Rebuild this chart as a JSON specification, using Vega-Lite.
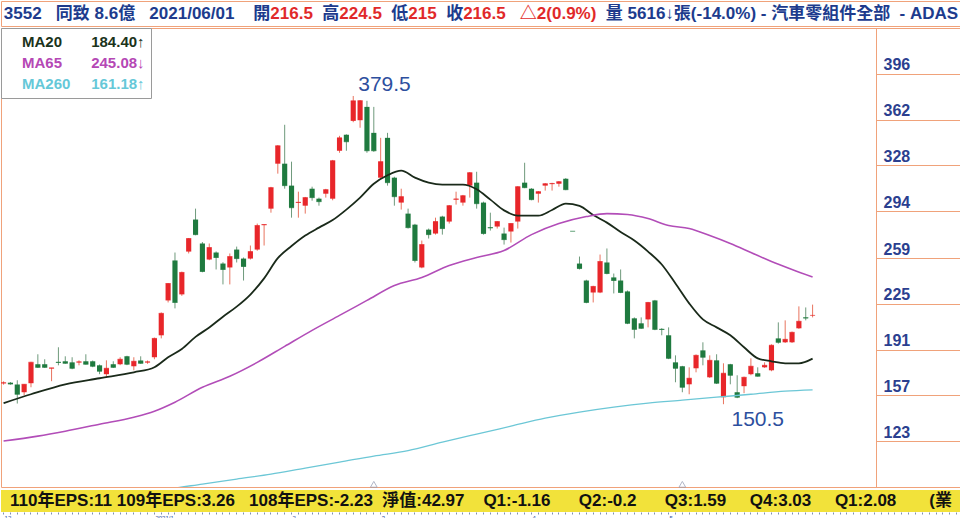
{
"$schema": "https://vega.github.io/schema/vega-lite/v6.json",
"padding": 0,
"background": "white",
"spacing": 0,
"config": {"view": {"stroke": null}, "concat": {"spacing": 0}},
"resolve": {"scale": {"x": "shared", "color": "independent"}, "legend": {"color": "independent"}},
"datasets": {
"k": [
{"d":"2020-12-02","o":166,"h":167.5,"l":165,"c":166.5},
{"d":"2020-12-03","o":166.5,"h":167,"l":165,"c":165.5},
{"d":"2020-12-04","o":165.1,"h":168.3,"l":151,"c":157.9},
{"d":"2020-12-07","o":159.4,"h":165.5,"l":157.2,"c":165.3},
{"d":"2020-12-08","o":166.1,"h":182,"l":163.1,"c":181.6},
{"d":"2020-12-09","o":180.2,"h":187.6,"l":177.5,"c":177.9},
{"d":"2020-12-10","o":180.2,"h":183.9,"l":177.5,"c":177.9},
{"d":"2020-12-11","o":177,"h":177.5,"l":167.6,"c":177.5},
{"d":"2020-12-14","o":182,"h":192.8,"l":179.4,"c":181.5},
{"d":"2020-12-15","o":182.4,"h":186.1,"l":180.5,"c":180.9},
{"d":"2020-12-16","o":181.6,"h":185.4,"l":176.5,"c":177.2},
{"d":"2020-12-17","o":181.5,"h":183.1,"l":179.4,"c":182},
{"d":"2020-12-18","o":182.4,"h":187.6,"l":180,"c":180.2},
{"d":"2020-12-21","o":182.4,"h":183,"l":178,"c":178.7},
{"d":"2020-12-22","o":179.4,"h":180,"l":172.8,"c":175},
{"d":"2020-12-23","o":172.8,"h":183.1,"l":170.5,"c":177.2},
{"d":"2020-12-24","o":180.2,"h":182.4,"l":177.5,"c":177.9},
{"d":"2020-12-25","o":180.2,"h":185.4,"l":179.5,"c":183.9},
{"d":"2020-12-28","o":186.1,"h":186.5,"l":179.5,"c":180.2},
{"d":"2020-12-29","o":178.7,"h":185.4,"l":175.7,"c":182.4},
{"d":"2020-12-30","o":183,"h":186.1,"l":180.5,"c":180.9},
{"d":"2020-12-31","o":181.5,"h":183,"l":180.5,"c":182},
{"d":"2021-01-04","o":185.4,"h":200,"l":183.9,"c":199.4},
{"d":"2021-01-05","o":201.7,"h":218.7,"l":199.4,"c":218},
{"d":"2021-01-06","o":227.6,"h":240.5,"l":226.1,"c":240.2},
{"d":"2021-01-07","o":257.3,"h":263.2,"l":221.7,"c":226.1},
{"d":"2021-01-08","o":232.1,"h":249,"l":231,"c":248.4},
{"d":"2021-01-11","o":263.9,"h":274,"l":262.5,"c":273.6},
{"d":"2021-01-12","o":287.7,"h":295.8,"l":276,"c":276.5},
{"d":"2021-01-13","o":269.9,"h":271,"l":248.5,"c":249.1},
{"d":"2021-01-14","o":258,"h":269.9,"l":257.5,"c":266.9},
{"d":"2021-01-15","o":263.2,"h":264,"l":250.6,"c":259.5},
{"d":"2021-01-18","o":255,"h":256,"l":239.5,"c":250.6},
{"d":"2021-01-19","o":252.1,"h":262.5,"l":239.5,"c":260.2},
{"d":"2021-01-20","o":265.4,"h":267.6,"l":255.8,"c":258.7},
{"d":"2021-01-21","o":258.7,"h":259.5,"l":242.4,"c":252.8},
{"d":"2021-01-22","o":258.7,"h":268.4,"l":258,"c":263.9},
{"d":"2021-01-25","o":265.4,"h":284.7,"l":264.5,"c":283.2},
{"d":"2021-01-26","o":283.5,"h":284,"l":268.4,"c":284},
{"d":"2021-01-27","o":295.8,"h":312,"l":292.8,"c":311.4},
{"d":"2021-01-28","o":329.2,"h":343,"l":321.8,"c":342.5},
{"d":"2021-01-29","o":329.2,"h":358.1,"l":310.6,"c":312.9},
{"d":"2021-02-01","o":312.9,"h":330.7,"l":289.1,"c":296.5},
{"d":"2021-02-02","o":300,"h":308.4,"l":289.1,"c":300.5},
{"d":"2021-02-03","o":298,"h":304.5,"l":292.1,"c":304},
{"d":"2021-02-04","o":310.6,"h":312.1,"l":301.7,"c":304},
{"d":"2021-02-05","o":303.2,"h":304,"l":298,"c":301},
{"d":"2021-02-17","o":306.9,"h":310.5,"l":304,"c":309.9},
{"d":"2021-02-18","o":303.2,"h":332,"l":302,"c":331.4},
{"d":"2021-02-19","o":338.8,"h":349.9,"l":337.3,"c":348.4},
{"d":"2021-02-22","o":350.7,"h":351,"l":338.8,"c":345.5},
{"d":"2021-02-23","o":361,"h":379.5,"l":360,"c":375.9},
{"d":"2021-02-24","o":361.5,"h":376.5,"l":355.9,"c":376},
{"d":"2021-02-25","o":371.4,"h":375.9,"l":337.3,"c":338.8},
{"d":"2021-02-26","o":352.1,"h":371.4,"l":338,"c":338.8},
{"d":"2021-03-02","o":318.8,"h":348.4,"l":318,"c":330.7},
{"d":"2021-03-03","o":348.4,"h":352.1,"l":312.9,"c":315.1},
{"d":"2021-03-04","o":318.8,"h":319.5,"l":298,"c":304.7},
{"d":"2021-03-05","o":300.3,"h":310.6,"l":295.1,"c":304.7},
{"d":"2021-03-08","o":292.1,"h":295.8,"l":281,"c":281.7},
{"d":"2021-03-09","o":283.9,"h":284.5,"l":255.8,"c":257.3},
{"d":"2021-03-10","o":252.1,"h":272.1,"l":251.5,"c":269.1},
{"d":"2021-03-11","o":280.2,"h":281,"l":273.6,"c":276.5},
{"d":"2021-03-12","o":277.3,"h":289.1,"l":276.5,"c":286.2},
{"d":"2021-03-15","o":289.9,"h":290.5,"l":276.5,"c":281},
{"d":"2021-03-16","o":286.2,"h":298.5,"l":284.7,"c":298},
{"d":"2021-03-17","o":302.5,"h":308.4,"l":298.8,"c":303},
{"d":"2021-03-18","o":300.3,"h":306,"l":298,"c":305.4},
{"d":"2021-03-19","o":312.9,"h":323,"l":304,"c":322.5},
{"d":"2021-03-22","o":315.1,"h":323.2,"l":295.8,"c":299.5},
{"d":"2021-03-23","o":300.3,"h":301,"l":276.5,"c":277.3},
{"d":"2021-03-24","o":282,"h":292.8,"l":279.5,"c":281.5},
{"d":"2021-03-25","o":282.5,"h":286.5,"l":281,"c":286.2},
{"d":"2021-03-26","o":277.3,"h":281.7,"l":269.1,"c":272.8},
{"d":"2021-03-29","o":278.8,"h":285,"l":270.6,"c":284.7},
{"d":"2021-03-30","o":286.2,"h":312.5,"l":281,"c":312.1},
{"d":"2021-03-31","o":315.1,"h":329.9,"l":311,"c":311.4},
{"d":"2021-04-01","o":310.6,"h":311,"l":302,"c":302.5},
{"d":"2021-04-06","o":306.9,"h":308.9,"l":300.3,"c":308.4},
{"d":"2021-04-07","o":312.9,"h":314.8,"l":309.2,"c":314.3},
{"d":"2021-04-08","o":314,"h":315,"l":309.2,"c":314.5},
{"d":"2021-04-09","o":314.3,"h":316.3,"l":312.1,"c":315.8},
{"d":"2021-04-12","o":318,"h":318.5,"l":309.5,"c":309.9},
{"d":"2021-04-13","o":279,"h":279,"l":279,"c":279},
{"d":"2021-04-14","o":255,"h":260.2,"l":250.6,"c":251.3},
{"d":"2021-04-15","o":242.4,"h":243,"l":225.5,"c":226.1},
{"d":"2021-04-16","o":233.5,"h":238.5,"l":226.1,"c":238},
{"d":"2021-04-19","o":233.5,"h":261.7,"l":233,"c":256.5},
{"d":"2021-04-20","o":255.8,"h":266.2,"l":247,"c":247.6},
{"d":"2021-04-21","o":244.7,"h":247.6,"l":232.8,"c":242.4},
{"d":"2021-04-22","o":242.4,"h":250.6,"l":233,"c":233.5},
{"d":"2021-04-23","o":234.3,"h":235,"l":210,"c":210.6},
{"d":"2021-04-26","o":214.3,"h":215,"l":199.4,"c":206.1},
{"d":"2021-04-27","o":210.6,"h":215,"l":206.5,"c":206.9},
{"d":"2021-04-28","o":213.5,"h":226.5,"l":207.6,"c":226.1},
{"d":"2021-04-29","o":227.6,"h":228,"l":205.5,"c":206.1},
{"d":"2021-04-30","o":206.5,"h":207,"l":201.7,"c":206},
{"d":"2021-05-03","o":201.7,"h":207.6,"l":184,"c":184.6},
{"d":"2021-05-04","o":181.6,"h":186.8,"l":166.8,"c":177.2},
{"d":"2021-05-05","o":178.7,"h":179,"l":159.4,"c":163.1},
{"d":"2021-05-06","o":165.3,"h":177.9,"l":157.9,"c":169.8},
{"d":"2021-05-07","o":177.2,"h":187.5,"l":174.2,"c":186.8},
{"d":"2021-05-10","o":190.5,"h":196.5,"l":179.4,"c":185.4},
{"d":"2021-05-11","o":170.5,"h":186.8,"l":170,"c":183.1},
{"d":"2021-05-12","o":183.1,"h":187.6,"l":165.5,"c":166.1},
{"d":"2021-05-13","o":155.7,"h":180.9,"l":150.5,"c":173.5},
{"d":"2021-05-14","o":180.2,"h":180.5,"l":165.3,"c":172},
{"d":"2021-05-17","o":159.4,"h":172,"l":155,"c":155.7},
{"d":"2021-05-18","o":163.9,"h":171,"l":158.7,"c":170.5},
{"d":"2021-05-19","o":172.8,"h":184.6,"l":172,"c":178.7},
{"d":"2021-05-20","o":173.5,"h":177.9,"l":171,"c":171.3},
{"d":"2021-05-21","o":177.9,"h":181.6,"l":177.5,"c":179.4},
{"d":"2021-05-24","o":175.7,"h":195,"l":175,"c":194.3},
{"d":"2021-05-25","o":199.4,"h":211.3,"l":195.5,"c":196.5},
{"d":"2021-05-26","o":196.5,"h":212.8,"l":196,"c":198.7},
{"d":"2021-05-27","o":196.5,"h":204.5,"l":196,"c":203.9},
{"d":"2021-05-28","o":206.9,"h":223.2,"l":206.5,"c":212.1},
{"d":"2021-05-31","o":215,"h":222.4,"l":212.8,"c":214.5},
{"d":"2021-06-01","o":216.5,"h":224.5,"l":215,"c":216.5}
],
"pad": [
{"d":"2021-06-02"},{"d":"2021-06-03"},{"d":"2021-06-04"},{"d":"2021-06-07"},{"d":"2021-06-08"},{"d":"2021-06-09"},{"d":"2021-06-10"},{"d":"2021-06-11"},{"d":"2021-06-15"},{"d":"2021-06-16"},{"d":"2021-06-17"},{"d":"2021-06-18"},{"d":"2021-06-21"},{"d":"2021-06-22"},{"d":"2021-06-23"},{"d":"2021-06-24"},{"d":"2021-06-25"},{"d":"2021-06-28"},{"d":"2021-06-29"},{"d":"2021-06-30"},{"d":"2021-07-01"}
],
"ma": [
{"d":"2020-12-02","ma":"MA20","v":151.3},{"d":"2020-12-08","ma":"MA20","v":157.9},{"d":"2020-12-15","ma":"MA20","v":165.3},{"d":"2020-12-22","ma":"MA20","v":169.8},{"d":"2020-12-29","ma":"MA20","v":174.2},{"d":"2021-01-04","ma":"MA20","v":178},{"d":"2021-01-06","ma":"MA20","v":185.4},{"d":"2021-01-08","ma":"MA20","v":191.5},{"d":"2021-01-12","ma":"MA20","v":200.5},{"d":"2021-01-14","ma":"MA20","v":207.5},{"d":"2021-01-18","ma":"MA20","v":215.5},{"d":"2021-01-20","ma":"MA20","v":223},{"d":"2021-01-22","ma":"MA20","v":232},{"d":"2021-01-26","ma":"MA20","v":244},{"d":"2021-01-28","ma":"MA20","v":259},{"d":"2021-02-01","ma":"MA20","v":268},{"d":"2021-02-03","ma":"MA20","v":275.8},{"d":"2021-02-05","ma":"MA20","v":281.7},{"d":"2021-02-18","ma":"MA20","v":287.3},{"d":"2021-02-22","ma":"MA20","v":295.1},{"d":"2021-02-24","ma":"MA20","v":304},{"d":"2021-02-26","ma":"MA20","v":314.3},{"d":"2021-03-03","ma":"MA20","v":320.6},{"d":"2021-03-05","ma":"MA20","v":324},{"d":"2021-03-09","ma":"MA20","v":318.8},{"d":"2021-03-11","ma":"MA20","v":315.1},{"d":"2021-03-15","ma":"MA20","v":313.6},{"d":"2021-03-18","ma":"MA20","v":313.6},{"d":"2021-03-22","ma":"MA20","v":310.2},{"d":"2021-03-24","ma":"MA20","v":302.5},{"d":"2021-03-26","ma":"MA20","v":294.5},{"d":"2021-03-30","ma":"MA20","v":290.6},{"d":"2021-04-06","ma":"MA20","v":290.6},{"d":"2021-04-08","ma":"MA20","v":294.8},{"d":"2021-04-12","ma":"MA20","v":299.5},{"d":"2021-04-14","ma":"MA20","v":297.8},{"d":"2021-04-16","ma":"MA20","v":291},{"d":"2021-04-20","ma":"MA20","v":285.4},{"d":"2021-04-22","ma":"MA20","v":278.4},{"d":"2021-04-26","ma":"MA20","v":272.1},{"d":"2021-04-28","ma":"MA20","v":263.9},{"d":"2021-04-30","ma":"MA20","v":254.3},{"d":"2021-05-04","ma":"MA20","v":240.2},{"d":"2021-05-06","ma":"MA20","v":225.4},{"d":"2021-05-10","ma":"MA20","v":213.5},{"d":"2021-05-12","ma":"MA20","v":207.6},{"d":"2021-05-14","ma":"MA20","v":201.7},{"d":"2021-05-18","ma":"MA20","v":192.8},{"d":"2021-05-20","ma":"MA20","v":184.6},{"d":"2021-05-24","ma":"MA20","v":182.4},{"d":"2021-05-26","ma":"MA20","v":180.9},{"d":"2021-05-28","ma":"MA20","v":180.9},{"d":"2021-06-01","ma":"MA20","v":184.4},
{"d":"2020-12-02","ma":"MA65","v":123.1},{"d":"2020-12-09","ma":"MA65","v":126.8},{"d":"2020-12-15","ma":"MA65","v":130.5},{"d":"2020-12-22","ma":"MA65","v":135.7},{"d":"2020-12-29","ma":"MA65","v":140.9},{"d":"2021-01-04","ma":"MA65","v":145.3},{"d":"2021-01-07","ma":"MA65","v":152},{"d":"2021-01-13","ma":"MA65","v":163.1},{"d":"2021-01-19","ma":"MA65","v":171.3},{"d":"2021-01-25","ma":"MA65","v":181.6},{"d":"2021-01-29","ma":"MA65","v":193.5},{"d":"2021-02-04","ma":"MA65","v":205.4},{"d":"2021-02-19","ma":"MA65","v":216.5},{"d":"2021-02-25","ma":"MA65","v":227.6},{"d":"2021-03-04","ma":"MA65","v":238.7},{"d":"2021-03-10","ma":"MA65","v":244.7},{"d":"2021-03-16","ma":"MA65","v":253.6},{"d":"2021-03-22","ma":"MA65","v":259.5},{"d":"2021-03-26","ma":"MA65","v":264.7},{"d":"2021-04-01","ma":"MA65","v":276.5},{"d":"2021-04-09","ma":"MA65","v":284.7},{"d":"2021-04-15","ma":"MA65","v":289.9},{"d":"2021-04-20","ma":"MA65","v":292.1},{"d":"2021-04-23","ma":"MA65","v":291.4},{"d":"2021-04-28","ma":"MA65","v":288.4},{"d":"2021-05-03","ma":"MA65","v":283.2},{"d":"2021-05-06","ma":"MA65","v":281},{"d":"2021-05-11","ma":"MA65","v":275.8},{"d":"2021-05-14","ma":"MA65","v":269.9},{"d":"2021-05-19","ma":"MA65","v":263.2},{"d":"2021-05-24","ma":"MA65","v":256.5},{"d":"2021-05-27","ma":"MA65","v":250.6},{"d":"2021-06-01","ma":"MA65","v":245.08},
{"d":"2020-12-29","ma":"MA260","v":84.5},{"d":"2021-01-06","ma":"MA260","v":87.5},{"d":"2021-01-13","ma":"MA260","v":91.2},{"d":"2021-01-20","ma":"MA260","v":94.9},{"d":"2021-01-27","ma":"MA260","v":98.6},{"d":"2021-02-03","ma":"MA260","v":103.1},{"d":"2021-02-19","ma":"MA260","v":107.5},{"d":"2021-02-26","ma":"MA260","v":112},{"d":"2021-03-08","ma":"MA260","v":116},{"d":"2021-03-15","ma":"MA260","v":122.3},{"d":"2021-03-22","ma":"MA260","v":128.3},{"d":"2021-03-29","ma":"MA260","v":134.2},{"d":"2021-04-07","ma":"MA260","v":140.1},{"d":"2021-04-14","ma":"MA260","v":144.6},{"d":"2021-04-21","ma":"MA260","v":148.3},{"d":"2021-04-28","ma":"MA260","v":151.3},{"d":"2021-05-05","ma":"MA260","v":153.5},{"d":"2021-05-12","ma":"MA260","v":155.7},{"d":"2021-05-19","ma":"MA260","v":157.9},{"d":"2021-05-26","ma":"MA260","v":160.2},{"d":"2021-06-01","ma":"MA260","v":161.18}
],
"ann": [
{"d":"2021-02-23","v":379.5,"lab":"379.5","p":"hi"},
{"d":"2021-05-13","v":150.5,"lab":"150.5","p":"lo"}
],
"mk": [{"d":"2021-02-26"},{"d":"2021-05-05"}]
},
"vconcat": [
{
"width": 960, "height": 25,
"view": {"fill": "white", "stroke": "#f0a27a"},
"data": {"values": [{"t": "3552\u00a0\u00a0\u00a0同致\u00a08.6億\u00a0\u00a0\u00a02021/06/01\u00a0\u00a0\u00a0\u00a0開216.5\u00a0\u00a0高224.5\u00a0\u00a0低215\u00a0\u00a0收216.5\u00a0\u00a0\u00a0△2(0.9%)\u00a0\u00a0量\u00a05616↓張(-14.0%)\u00a0-\u00a0汽車零組件全部\u00a0\u00a0-\u00a0ADAS"}]},
"mark": {"type": "text", "font": "Liberation Sans, Noto Sans CJK TC", "fontSize": 17, "fontWeight": "bold",
 "color": {"gradient": "linear", "x1": 0, "y1": 0, "x2": 1, "y2": 0, "stops": [
 {"offset": 0, "color": "#1f3a8c"}, {"offset": 0.2798, "color": "#1f3a8c"},
 {"offset": 0.2798, "color": "#e0282a"}, {"offset": 0.3294, "color": "#e0282a"},
 {"offset": 0.3294, "color": "#1f3a8c"}, {"offset": 0.3523, "color": "#1f3a8c"},
 {"offset": 0.3523, "color": "#e0282a"}, {"offset": 0.4019, "color": "#e0282a"},
 {"offset": 0.4019, "color": "#1f3a8c"}, {"offset": 0.4248, "color": "#1f3a8c"},
 {"offset": 0.4248, "color": "#e0282a"}, {"offset": 0.4595, "color": "#e0282a"},
 {"offset": 0.4595, "color": "#1f3a8c"}, {"offset": 0.4824, "color": "#1f3a8c"},
 {"offset": 0.4824, "color": "#e0282a"}, {"offset": 0.6229, "color": "#e0282a"},
 {"offset": 0.6229, "color": "#1f3a8c"}, {"offset": 1, "color": "#1f3a8c"}]}},
"encoding": {"text": {"field": "t", "type": "nominal"}}
},
{
"width": 960, "height": 459,
"view": {"fill": "white", "stroke": "#f0a27a"},
"layer": [
{
"data": {"name": "k"},
"transform": [{"window": [{"op": "lag", "field": "c", "as": "pc"}], "sort": [{"field": "d", "order": "ascending"}]}],
"encoding": {"x": {"field": "d", "type": "ordinal", "scale": {"paddingInner": 0.25, "paddingOuter": 0.135, "align": 0}, "axis": null}},
"layer": [
{"mark": {"type": "rule", "strokeWidth": 1},
 "encoding": {
 "y": {"field": "l", "type": "quantitative", "scale": {"domain": [89, 430], "nice": false, "zero": false},
  "axis": {"orient": "right", "offset": -85, "values": [123,157,191,225,259,294,328,362,396], "tickSize": 85, "tickColor": "#f0a27a", "domainColor": "#f0a27a", "grid": false, "title": null, "labelFont": "Liberation Sans", "labelFontSize": 16, "labelFontWeight": "bold", "labelColor": "#2b3f8f", "labelPadding": -78, "labelBaseline": "alphabetic", "labelOffset": -4, "labelAlign": "left", "labelBound": false, "labelFlush": false, "labelOverlap": false}},
 "y2": {"field": "h"},
 "color": {"condition": {"test": "datum.c > datum.o || (datum.c == datum.o && datum.c >= datum.pc)", "value": "#e8745f"}, "value": "#6f9a7c"}}},
{"mark": {"type": "bar"},
 "encoding": {
 "y": {"field": "o", "type": "quantitative", "scale": {"domain": [89, 430], "nice": false, "zero": false},
  "axis": {"orient": "right", "offset": -85, "values": [123,157,191,225,259,294,328,362,396], "tickSize": 85, "tickColor": "#f0a27a", "domainColor": "#f0a27a", "grid": false, "title": null, "labelFont": "Liberation Sans", "labelFontSize": 16, "labelFontWeight": "bold", "labelColor": "#2b3f8f", "labelPadding": -78, "labelBaseline": "alphabetic", "labelOffset": -4, "labelAlign": "left", "labelBound": false, "labelFlush": false, "labelOverlap": false}},
 "y2": {"field": "c"},
 "color": {"condition": {"test": "datum.c > datum.o || (datum.c == datum.o && datum.c >= datum.pc)", "value": "#e8262a"}, "value": "#1f7a3f"}}},
{"mark": {"type": "tick", "size": 5, "thickness": 1},
 "encoding": {
 "y": {"field": "c", "type": "quantitative", "scale": {"domain": [89, 430], "nice": false, "zero": false},
  "axis": {"orient": "right", "offset": -85, "values": [123,157,191,225,259,294,328,362,396], "tickSize": 85, "tickColor": "#f0a27a", "domainColor": "#f0a27a", "grid": false, "title": null, "labelFont": "Liberation Sans", "labelFontSize": 16, "labelFontWeight": "bold", "labelColor": "#2b3f8f", "labelPadding": -78, "labelBaseline": "alphabetic", "labelOffset": -4, "labelAlign": "left", "labelBound": false, "labelFlush": false, "labelOverlap": false}},
 "color": {"condition": {"test": "datum.c > datum.o || (datum.c == datum.o && datum.c >= datum.pc)", "value": "#e8262a"}, "value": "#1f7a3f"}}}
]
},
{
"data": {"name": "ma"},
"mark": {"type": "line", "clip": true, "interpolate": "monotone"},
"encoding": {
 "x": {"field": "d", "type": "ordinal", "scale": {"paddingInner": 0.25, "paddingOuter": 0.135, "align": 0}, "axis": null},
 "y": {"field": "v", "type": "quantitative", "scale": {"domain": [89, 430], "nice": false, "zero": false},
  "axis": {"orient": "right", "offset": -85, "values": [123,157,191,225,259,294,328,362,396], "tickSize": 85, "tickColor": "#f0a27a", "domainColor": "#f0a27a", "grid": false, "title": null, "labelFont": "Liberation Sans", "labelFontSize": 16, "labelFontWeight": "bold", "labelColor": "#2b3f8f", "labelPadding": -78, "labelBaseline": "alphabetic", "labelOffset": -4, "labelAlign": "left", "labelBound": false, "labelFlush": false, "labelOverlap": false}},
 "color": {"field": "ma", "type": "nominal",
  "scale": {"domain": ["MA20", "MA65", "MA260"], "range": ["#1a2a1a", "#b24db8", "#6cc7d6"]},
  "legend": {"orient": "top-left", "offset": 0, "title": null, "fillColor": "#ffffff", "strokeColor": "#9a9a9a", "padding": 6, "symbolSize": 0, "symbolStrokeWidth": 0, "symbolOpacity": 0, "labelOffset": 0, "labelFont": "Liberation Sans", "labelFontSize": 15, "labelFontWeight": "bold", "rowPadding": 5, "labelLimit": 300,
   "labelExpr": "datum.label == 'MA20' ? 'MA20\u00a0\u00a0\u00a0\u00a0\u00a0\u00a0\u00a0184.40↑' : datum.label == 'MA65' ? 'MA65\u00a0\u00a0\u00a0\u00a0\u00a0\u00a0\u00a0245.08↓' : 'MA260\u00a0\u00a0\u00a0\u00a0\u00a0161.18↑'",
   "encode": {"labels": {"update": {"fill": {"signal": "datum.value == 'MA20' ? '#1b331b' : datum.value == 'MA65' ? '#b548b5' : '#66c8d8'"}}}}}},
 "strokeWidth": {"field": "ma", "type": "nominal", "scale": {"domain": ["MA20", "MA65", "MA260"], "range": [1.8, 1.3, 1.4]}, "legend": null}
}
},
{
"data": {"name": "ann"},
"transform": [{"filter": "datum.p == 'hi'"}],
"mark": {"type": "text", "align": "left", "baseline": "alphabetic", "dx": 5, "dy": -5, "font": "Liberation Sans", "fontSize": 21, "color": "#2d4f9e"},
"encoding": {
 "x": {"field": "d", "type": "ordinal", "scale": {"paddingInner": 0.25, "paddingOuter": 0.135, "align": 0}, "axis": null},
 "y": {"field": "v", "type": "quantitative", "scale": {"domain": [89, 430], "nice": false, "zero": false},
  "axis": {"orient": "right", "offset": -85, "values": [123,157,191,225,259,294,328,362,396], "tickSize": 85, "tickColor": "#f0a27a", "domainColor": "#f0a27a", "grid": false, "title": null, "labelFont": "Liberation Sans", "labelFontSize": 16, "labelFontWeight": "bold", "labelColor": "#2b3f8f", "labelPadding": -78, "labelBaseline": "alphabetic", "labelOffset": -4, "labelAlign": "left", "labelBound": false, "labelFlush": false, "labelOverlap": false}},
 "text": {"field": "lab"}}
},
{
"data": {"name": "ann"},
"transform": [{"filter": "datum.p == 'lo'"}],
"mark": {"type": "text", "align": "left", "baseline": "alphabetic", "dx": 8, "dy": 22, "font": "Liberation Sans", "fontSize": 21, "color": "#2d4f9e"},
"encoding": {
 "x": {"field": "d", "type": "ordinal", "scale": {"paddingInner": 0.25, "paddingOuter": 0.135, "align": 0}, "axis": null},
 "y": {"field": "v", "type": "quantitative", "scale": {"domain": [89, 430], "nice": false, "zero": false},
  "axis": {"orient": "right", "offset": -85, "values": [123,157,191,225,259,294,328,362,396], "tickSize": 85, "tickColor": "#f0a27a", "domainColor": "#f0a27a", "grid": false, "title": null, "labelFont": "Liberation Sans", "labelFontSize": 16, "labelFontWeight": "bold", "labelColor": "#2b3f8f", "labelPadding": -78, "labelBaseline": "alphabetic", "labelOffset": -4, "labelAlign": "left", "labelBound": false, "labelFlush": false, "labelOverlap": false}},
 "text": {"field": "lab"}}
},
{
"data": {"name": "mk"},
"mark": {"type": "point", "shape": "triangle-up", "filled": false, "size": 45, "color": "#9098b0", "strokeWidth": 1},
"encoding": {
 "x": {"field": "d", "type": "ordinal", "scale": {"paddingInner": 0.25, "paddingOuter": 0.135, "align": 0}, "axis": null},
 "y": {"datum": 91, "type": "quantitative", "scale": {"domain": [89, 430], "nice": false, "zero": false},
  "axis": {"orient": "right", "offset": -85, "values": [123,157,191,225,259,294,328,362,396], "tickSize": 85, "tickColor": "#f0a27a", "domainColor": "#f0a27a", "grid": false, "title": null, "labelFont": "Liberation Sans", "labelFontSize": 16, "labelFontWeight": "bold", "labelColor": "#2b3f8f", "labelPadding": -78, "labelBaseline": "alphabetic", "labelOffset": -4, "labelAlign": "left", "labelBound": false, "labelFlush": false, "labelOverlap": false}}}
}
]
},
{
"width": 960, "height": 22,
"view": {"fill": "#f2e23a", "stroke": null},
"layer": [
{
"data": {"name": "k"},
"mark": {"type": "tick", "opacity": 0},
"encoding": {
 "x": {"field": "d", "type": "ordinal", "scale": {"paddingInner": 0.25, "paddingOuter": 0.135, "align": 0},
  "axis": {"orient": "bottom", "title": null, "domain": false, "ticks": true, "tickSize": 2, "tickColor": "#8090b0", "labelFontSize": 6, "labelFont": "Liberation Sans", "labelColor": "#3050a0", "labelPadding": 0, "labelAngle": 0, "labelAlign": "left", "labelBaseline": "top", "labelOffset": 1, "labelOverlap": false, "labelBound": false, "labelFlush": false,
   "labelExpr": "datum.value == '2020-12-02' ? '12' : datum.value == '2021-01-04' ? '2021/1' : datum.value == '2021-02-01' ? '2' : datum.value == '2021-03-02' ? '3' : datum.value == '2021-04-01' ? '4' : datum.value == '2021-05-03' ? '5' : ''"}}}
},
{
"data": {"name": "pad"},
"mark": {"type": "tick", "opacity": 0},
"encoding": {
 "x": {"field": "d", "type": "ordinal", "scale": {"paddingInner": 0.25, "paddingOuter": 0.135, "align": 0},
  "axis": {"orient": "bottom", "title": null, "domain": false, "ticks": true, "tickSize": 2, "tickColor": "#8090b0", "labelFontSize": 6, "labelFont": "Liberation Sans", "labelColor": "#3050a0", "labelPadding": 0, "labelAngle": 0, "labelAlign": "left", "labelBaseline": "top", "labelOffset": 1, "labelOverlap": false, "labelBound": false, "labelFlush": false,
   "labelExpr": "datum.value == '2020-12-02' ? '12' : datum.value == '2021-01-04' ? '2021/1' : datum.value == '2021-02-01' ? '2' : datum.value == '2021-03-02' ? '3' : datum.value == '2021-04-01' ? '4' : datum.value == '2021-05-03' ? '5' : ''"}}}
},
{
"data": {"values": [{"t": "110年EPS:11\u00a0109年EPS:3.26\u00a0\u00a0\u00a0108年EPS:-2.23\u00a0\u00a0淨值:42.97\u00a0\u00a0\u00a0\u00a0Q1:-1.16\u00a0\u00a0\u00a0\u00a0\u00a0\u00a0Q2:-0.2\u00a0\u00a0\u00a0\u00a0\u00a0\u00a0Q3:1.59\u00a0\u00a0\u00a0\u00a0\u00a0Q4:3.03\u00a0\u00a0\u00a0\u00a0\u00a0Q1:2.08\u00a0\u00a0\u00a0\u00a0\u00a0\u00a0\u00a0(業\u00a0"}]},
"mark": {"type": "text", "font": "Liberation Sans, Noto Sans CJK TC", "fontSize": 17, "fontWeight": "bold", "color": "#111111"},
"encoding": {"text": {"field": "t", "type": "nominal"}}
}
]
}
]
}
